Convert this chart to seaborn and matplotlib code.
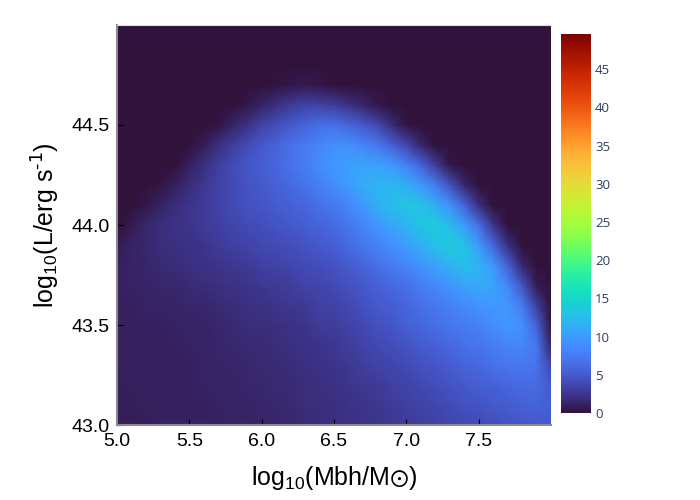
import numpy as np
import pandas as pd
import matplotlib
matplotlib.use('Agg')
import matplotlib.pyplot as plt
import seaborn as sns

# grid (log Mbh across, log L up)
log_mbh = [5.0, 5.1, 5.2, 5.3, 5.4, 5.5, 5.6, 5.7, 5.8, 5.9, 6.0, 6.1, 6.2, 6.3, 6.4, 6.5,
           6.6, 6.7, 6.8, 6.9, 7.0, 7.1, 7.2, 7.3, 7.4, 7.5, 7.6, 7.7, 7.8, 7.9, 8.0]
log_lum = [43.0, 43.1, 43.2, 43.3, 43.4, 43.5, 43.6, 43.7, 43.8, 43.9, 44.0,
           44.1, 44.2, 44.3, 44.4, 44.5, 44.6, 44.7, 44.8, 44.9, 45.0]
density = [
    [0.9, 0.9, 0.9, 1.0, 1.0, 1.0, 1.1, 1.1, 1.2, 1.2, 1.3, 1.4, 1.5, 1.7, 1.8, 2.0, 2.2, 2.3, 2.5, 2.6, 2.8, 3.0, 3.2, 3.5, 3.7, 4.0, 4.2, 4.5, 4.8, 5.0, 5.0],
    [0.9, 0.9, 1.0, 1.0, 1.0, 1.0, 1.1, 1.2, 1.2, 1.3, 1.4, 1.5, 1.6, 1.8, 1.9, 2.1, 2.3, 2.5, 2.7, 2.9, 3.1, 3.3, 3.6, 3.9, 4.3, 4.6, 4.9, 5.2, 5.5, 5.7, 5.4],
    [0.9, 1.0, 1.0, 1.0, 1.1, 1.1, 1.2, 1.2, 1.3, 1.4, 1.5, 1.6, 1.7, 1.9, 2.0, 2.2, 2.4, 2.6, 2.9, 3.1, 3.4, 3.7, 4.1, 4.5, 4.9, 5.3, 5.6, 6.0, 6.3, 6.3, 5.0],
    [1.0, 1.0, 1.0, 1.0, 1.1, 1.1, 1.2, 1.3, 1.4, 1.5, 1.6, 1.7, 1.9, 2.0, 2.2, 2.4, 2.7, 3.0, 3.3, 3.6, 3.9, 4.3, 4.7, 5.2, 5.7, 6.1, 6.6, 7.1, 7.3, 6.8, 3.5],
    [1.0, 1.0, 1.0, 1.1, 1.1, 1.2, 1.3, 1.4, 1.5, 1.6, 1.7, 1.9, 2.1, 2.3, 2.5, 2.7, 3.0, 3.4, 3.7, 4.1, 4.6, 5.1, 5.6, 6.1, 6.6, 7.1, 7.7, 8.3, 8.5, 7.0, 1.2],
    [1.0, 1.0, 1.1, 1.1, 1.2, 1.2, 1.3, 1.5, 1.6, 1.8, 1.9, 2.1, 2.3, 2.5, 2.8, 3.0, 3.4, 3.8, 4.3, 4.8, 5.5, 6.0, 6.5, 7.0, 7.5, 8.0, 8.8, 9.7, 9.0, 5.5, 0.3],
    [1.1, 1.1, 1.2, 1.2, 1.3, 1.4, 1.5, 1.6, 1.8, 2.0, 2.2, 2.4, 2.6, 2.9, 3.1, 3.4, 3.8, 4.3, 4.9, 5.4, 6.0, 6.7, 7.3, 8.0, 8.6, 9.3, 9.8, 9.5, 7.5, 3.0, 0.0],
    [1.1, 1.2, 1.3, 1.4, 1.5, 1.7, 1.8, 2.0, 2.2, 2.4, 2.6, 2.8, 3.0, 3.3, 3.6, 3.9, 4.3, 4.9, 5.5, 6.1, 6.7, 7.6, 8.5, 9.5, 10.5, 11.2, 10.8, 8.5, 4.5, 0.6, 0.0],
    [1.1, 1.3, 1.4, 1.6, 1.8, 2.0, 2.2, 2.4, 2.7, 2.9, 3.1, 3.3, 3.6, 3.9, 4.2, 4.6, 5.2, 5.8, 6.6, 7.4, 8.3, 9.4, 10.5, 11.7, 12.8, 12.0, 9.5, 5.5, 1.5, 0.0, 0.0],
    [0.7, 1.2, 1.5, 1.8, 2.0, 2.2, 2.5, 2.8, 3.1, 3.4, 3.7, 3.9, 4.2, 4.6, 5.0, 5.4, 6.2, 7.0, 8.1, 9.1, 10.2, 11.5, 12.8, 13.8, 13.0, 10.0, 6.0, 2.0, 0.0, 0.0, 0.0],
    [0.0, 0.7, 1.4, 1.9, 2.2, 2.5, 2.9, 3.2, 3.6, 3.9, 4.2, 4.5, 4.9, 5.3, 5.7, 6.2, 7.1, 8.2, 9.5, 10.8, 12.0, 13.3, 13.8, 12.5, 10.0, 6.5, 2.5, 0.0, 0.0, 0.0, 0.0],
    [0.0, 0.0, 0.5, 1.2, 1.9, 2.4, 2.9, 3.4, 3.9, 4.3, 4.7, 5.1, 5.5, 6.0, 6.6, 7.3, 8.4, 9.7, 11.5, 12.7, 13.5, 13.0, 11.5, 9.0, 5.8, 2.0, 0.0, 0.0, 0.0, 0.0, 0.0],
    [0.0, 0.0, 0.0, 0.3, 1.1, 1.9, 2.7, 3.4, 4.0, 4.5, 5.0, 5.5, 6.1, 6.9, 7.8, 8.8, 10.0, 11.2, 12.0, 12.2, 11.5, 9.8, 7.5, 4.5, 1.5, 0.0, 0.0, 0.0, 0.0, 0.0, 0.0],
    [0.0, 0.0, 0.0, 0.0, 0.1, 1.0, 2.0, 3.0, 3.9, 4.7, 5.3, 5.9, 6.8, 7.7, 8.8, 9.8, 10.4, 10.8, 10.6, 9.7, 8.0, 5.7, 3.0, 0.5, 0.0, 0.0, 0.0, 0.0, 0.0, 0.0, 0.0],
    [0.0, 0.0, 0.0, 0.0, 0.0, 0.0, 0.8, 2.0, 3.0, 4.0, 4.9, 5.7, 6.6, 7.5, 8.3, 9.0, 9.0, 8.3, 7.3, 5.5, 3.5, 1.5, 0.1, 0.0, 0.0, 0.0, 0.0, 0.0, 0.0, 0.0, 0.0],
    [0.0, 0.0, 0.0, 0.0, 0.0, 0.0, 0.0, 0.3, 1.2, 2.3, 3.3, 4.2, 5.0, 5.8, 6.5, 6.6, 6.0, 5.0, 3.8, 1.8, 0.2, 0.0, 0.0, 0.0, 0.0, 0.0, 0.0, 0.0, 0.0, 0.0, 0.0],
    [0.0, 0.0, 0.0, 0.0, 0.0, 0.0, 0.0, 0.0, 0.0, 0.5, 1.3, 2.1, 2.8, 3.3, 3.4, 3.0, 2.3, 1.5, 0.5, 0.0, 0.0, 0.0, 0.0, 0.0, 0.0, 0.0, 0.0, 0.0, 0.0, 0.0, 0.0],
    [0.0, 0.0, 0.0, 0.0, 0.0, 0.0, 0.0, 0.0, 0.0, 0.0, 0.0, 0.2, 0.5, 0.6, 0.4, 0.1, 0.0, 0.0, 0.0, 0.0, 0.0, 0.0, 0.0, 0.0, 0.0, 0.0, 0.0, 0.0, 0.0, 0.0, 0.0],
    [0.0] * 31,
    [0.0] * 31,
    [0.0] * 31,
]
x_ticks = [5.0, 5.5, 6.0, 6.5, 7.0, 7.5]
y_ticks = [43.0, 43.5, 44.0, 44.5]
cbar_ticks = [0, 5, 10, 15, 20, 25, 30, 35, 40, 45]
cbar_max = 49.6

plt.rcParams['font.family'] = ['Liberation Sans', 'DejaVu Sans']
plt.rcParams['mathtext.default'] = 'regular'
plt.rcParams['mathtext.fallback'] = 'stixsans'

df = pd.DataFrame(density, index=log_lum, columns=log_mbh)

fig = plt.figure(figsize=(7, 5), dpi=100)
ax = fig.add_axes([117 / 700, 75 / 500, 434 / 700, 400 / 500])
cax = fig.add_axes([561 / 700, 87 / 500, 30 / 700, 379 / 500])

sns.heatmap(df, ax=ax, cbar_ax=cax, cmap='turbo', vmin=0, vmax=cbar_max,
            shading='gouraud', xticklabels=False, yticklabels=False)

# heatmap works in cell index, so go from data values to index
ax.set_xlim(0, len(log_mbh) - 1)
ax.set_ylim(0, len(log_lum) - 1)
ax.set_xticks(np.interp(x_ticks, log_mbh, range(len(log_mbh))))
ax.set_xticklabels(['%.1f' % t for t in x_ticks], fontsize=14)
ax.set_yticks(np.interp(y_ticks, log_lum, range(len(log_lum))))
ax.set_yticklabels(['%.1f' % t for t in y_ticks], fontsize=14, rotation=0)
ax.tick_params(direction='in', length=4, width=0.8, color='black', pad=5.5)

ax.set_xlabel(r'log$_{10}$(Mbh/M$\odot$)', fontsize=18, labelpad=10)
ax.set_ylabel(r'log$_{10}$(L/erg s$^{\text{-1}}$)', fontsize=18, labelpad=6.5)

ax.spines['left'].set_visible(True)
ax.spines['bottom'].set_visible(True)
ax.spines['top'].set_visible(True)
ax.spines['left'].set_color('#8a8a8a')
ax.spines['bottom'].set_color('#8a8a8a')
ax.spines['top'].set_color('#dddddd')
ax.spines['left'].set_linewidth(1.5)
ax.spines['bottom'].set_linewidth(1.5)

cax.set_yticks(cbar_ticks)
cax.set_yticklabels([str(t) for t in cbar_ticks], family='Open Sans', fontsize=9.5, color='#2a3f5f')
cax.tick_params(length=0, pad=3)

fig.savefig('out.png', dpi=100)
